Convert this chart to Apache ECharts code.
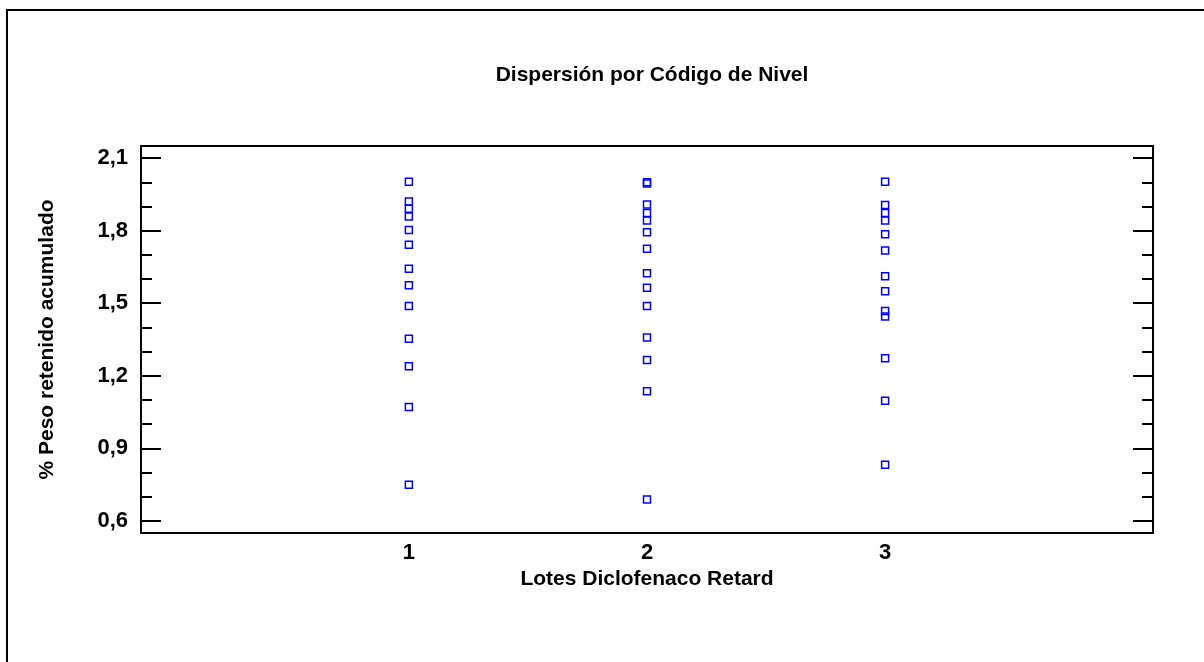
<!DOCTYPE html>
<html>
<head>
<meta charset="utf-8">
<script src="https://cdn.jsdelivr.net/npm/echarts@6/dist/echarts.min.js"></script>
<style>
html,body{margin:0;padding:0;background:#fff;}
#chart{width:1204px;height:662px;}
</style>
</head>
<body>
<div id="chart"></div>
<script>
var title = 'Dispersión por Código de Nivel';
var xName = 'Lotes Diclofenaco Retard';
var yName = '% Peso retenido acumulado';
var categories = [1, 2, 3];
var lote1 = [2.002, 1.921, 1.891, 1.859, 1.803, 1.742, 1.643, 1.574, 1.489, 1.353, 1.239, 1.071, 0.750];
var lote2 = [2.000, 1.995, 1.908, 1.873, 1.842, 1.793, 1.725, 1.624, 1.564, 1.489, 1.358, 1.265, 1.136, 0.689];
var lote3 = [2.002, 1.906, 1.873, 1.842, 1.785, 1.718, 1.612, 1.550, 1.468, 1.445, 1.272, 1.097, 0.832];
var yMajorTicks = [0.6, 0.9, 1.2, 1.5, 1.8, 2.1];
var yMinorTicks = [0.7, 0.8, 1.0, 1.1, 1.3, 1.4, 1.6, 1.7, 1.9, 2.0];

var groups = [lote1, lote2, lote3];
var points = [];
groups.forEach(function (arr, i) {
  arr.forEach(function (v) { points.push([categories[i], v]); });
});

var FONT = 'Liberation Sans, Arial, sans-serif';
var yMin = 0.55, yMax = 2.15;
function fmt(v) { return v.toFixed(1).replace('.', ','); }

function tickAx(pos, ticks, len) {
  return {
    type: 'value', position: pos, min: yMin, max: yMax,
    splitLine: {show: false},
    axisLine: {show: false},
    axisTick: {show: true, inside: true, length: len, customValues: ticks,
      lineStyle: {color: '#000', width: 2}},
    axisLabel: {show: false}
  };
}

var chart = echarts.init(document.getElementById('chart'), null, {renderer: 'canvas'});
chart.setOption({
  animation: false,
  backgroundColor: '#fff',
  title: {
    text: title, left: 647, textAlign: 'center', top: 60,
    textStyle: {fontFamily: FONT, fontWeight: 'bold', fontSize: 21, color: '#000'}
  },
  graphic: [{
    type: 'rect', shape: {x: 7, y: 10, width: 1400, height: 900},
    style: {fill: 'none', stroke: '#000', lineWidth: 2}, silent: true
  }],
  grid: {
    left: 141, top: 146, width: 1012, height: 387,
    show: true, borderColor: '#000', borderWidth: 2, backgroundColor: 'transparent'
  },
  xAxis: {
    type: 'value', min: -0.125, max: 4.125,
    name: xName, nameLocation: 'middle', nameGap: 36,
    nameTextStyle: {fontFamily: FONT, fontWeight: 'bold', fontSize: 21, color: '#000'},
    splitLine: {show: false}, axisLine: {show: false}, axisTick: {show: false},
    axisLabel: {customValues: categories, margin: 9, formatter: function (v) { return String(v); },
      fontFamily: FONT, fontWeight: 'bold', fontSize: 22, color: '#000'}
  },
  yAxis: [
    {
      type: 'value', position: 'left', min: yMin, max: yMax,
      name: yName, nameLocation: 'middle', nameGap: 83,
      nameTextStyle: {fontFamily: FONT, fontWeight: 'bold', fontSize: 21, color: '#000'},
      splitLine: {show: false}, axisLine: {show: false}, axisTick: {show: false},
      axisLabel: {show: true, customValues: yMajorTicks, formatter: fmt, margin: 13,
        fontFamily: FONT, fontWeight: 'bold', fontSize: 22, color: '#000'}
    },
    tickAx('left', yMajorTicks, 20),
    tickAx('left', yMinorTicks, 11),
    tickAx('right', yMajorTicks, 20),
    tickAx('right', yMinorTicks, 11)
  ],
  series: [{
    type: 'scatter', xAxisIndex: 0, yAxisIndex: 0,
    data: points, symbol: 'rect', symbolSize: 7,
    itemStyle: {color: 'rgba(0,0,0,0)', borderColor: '#0000ff', borderWidth: 1.5, opacity: 1}
  }]
});
</script>
</body>
</html>
